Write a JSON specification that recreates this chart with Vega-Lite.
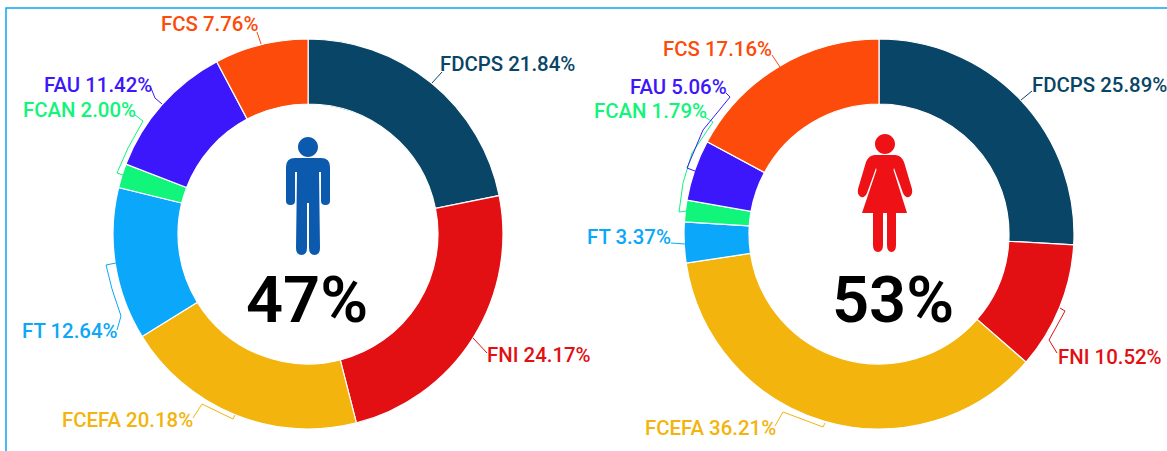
{"$schema":"https://vega.github.io/schema/vega-lite/v6.json","width":1167,"height":451,"padding":0,"autosize":{"type":"fit","contains":"padding"},"background":"white","config":{"view":{"stroke":null}},"datasets":{"shares":[{"panel":"Men","category":"FDCPS","value":21.84},{"panel":"Men","category":"FNI","value":24.17},{"panel":"Men","category":"FCEFA","value":20.18},{"panel":"Men","category":"FT","value":12.64},{"panel":"Men","category":"FCAN","value":2.0},{"panel":"Men","category":"FAU","value":11.42},{"panel":"Men","category":"FCS","value":7.76},{"panel":"Women","category":"FDCPS","value":25.89},{"panel":"Women","category":"FNI","value":10.52},{"panel":"Women","category":"FCEFA","value":36.21},{"panel":"Women","category":"FT","value":3.37},{"panel":"Women","category":"FCAN","value":1.79},{"panel":"Women","category":"FAU","value":5.06},{"panel":"Women","category":"FCS","value":17.16}],"totals":[{"panel":"Men","share":"47%"},{"panel":"Women","share":"53%"}],"callouts":[{"label":"FDCPS 21.84%","category":"FDCPS","lx":440,"ly":71},{"label":"FNI 24.17%","category":"FNI","lx":487,"ly":362},{"label":"FCEFA 20.18%","category":"FCEFA","lx":62,"ly":427},{"label":"FT 12.64%","category":"FT","lx":22,"ly":338},{"label":"FCAN 2.00%","category":"FCAN","lx":23,"ly":117},{"label":"FAU 11.42%","category":"FAU","lx":44,"ly":92},{"label":"FCS 7.76%","category":"FCS","lx":161,"ly":31},{"label":"FDCPS 25.89%","category":"FDCPS","lx":1032,"ly":92},{"label":"FNI 10.52%","category":"FNI","lx":1058,"ly":364},{"label":"FCEFA 36.21%","category":"FCEFA","lx":645,"ly":435},{"label":"FT 3.37%","category":"FT","lx":587,"ly":244},{"label":"FCAN 1.79%","category":"FCAN","lx":594,"ly":118},{"label":"FAU 5.06%","category":"FAU","lx":630,"ly":94},{"label":"FCS 17.16%","category":"FCS","lx":663,"ly":56}],"leaders":[{"id":"m1","category":"FDCPS","step":1,"px":432,"py":83},{"id":"m1","category":"FDCPS","step":2,"px":442,"py":72},{"id":"m2","category":"FNI","step":1,"px":473,"py":338},{"id":"m2","category":"FNI","step":2,"px":487,"py":353},{"id":"m3","category":"FCEFA","step":1,"px":235,"py":415},{"id":"m3","category":"FCEFA","step":2,"px":233,"py":419},{"id":"m3","category":"FCEFA","step":3,"px":202,"py":404},{"id":"m3","category":"FCEFA","step":4,"px":193,"py":418},{"id":"m4","category":"FT","step":1,"px":116,"py":263},{"id":"m4","category":"FT","step":2,"px":106,"py":265},{"id":"m4","category":"FT","step":3,"px":112,"py":289},{"id":"m4","category":"FT","step":4,"px":121,"py":316},{"id":"m4","category":"FT","step":5,"px":117,"py":330},{"id":"m5","category":"FCAN","step":1,"px":123,"py":175},{"id":"m5","category":"FCAN","step":2,"px":117,"py":173},{"id":"m5","category":"FCAN","step":3,"px":128,"py":148},{"id":"m5","category":"FCAN","step":4,"px":143,"py":121},{"id":"m5","category":"FCAN","step":5,"px":135,"py":115},{"id":"m6","category":"FAU","step":1,"px":162,"py":104},{"id":"m6","category":"FAU","step":2,"px":155,"py":98},{"id":"m6","category":"FAU","step":3,"px":151,"py":88},{"id":"m7","category":"FCS","step":1,"px":261,"py":44},{"id":"m7","category":"FCS","step":2,"px":257,"py":32},{"id":"w1","category":"FDCPS","step":1,"px":1021,"py":100},{"id":"w1","category":"FDCPS","step":2,"px":1032,"py":91},{"id":"w2","category":"FNI","step":1,"px":1060,"py":308},{"id":"w2","category":"FNI","step":2,"px":1065,"py":311},{"id":"w2","category":"FNI","step":3,"px":1049,"py":340},{"id":"w2","category":"FNI","step":4,"px":1057,"py":353},{"id":"w3","category":"FCEFA","step":1,"px":825,"py":423},{"id":"w3","category":"FCEFA","step":2,"px":823,"py":427},{"id":"w3","category":"FCEFA","step":3,"px":783,"py":412},{"id":"w3","category":"FCEFA","step":4,"px":775,"py":426},{"id":"w4","category":"FT","step":1,"px":685,"py":244},{"id":"w4","category":"FT","step":2,"px":671,"py":243},{"id":"w5","category":"FCAN","step":1,"px":687,"py":211},{"id":"w5","category":"FCAN","step":2,"px":679,"py":212},{"id":"w5","category":"FCAN","step":3,"px":683,"py":183},{"id":"w5","category":"FCAN","step":4,"px":692,"py":153},{"id":"w5","category":"FCAN","step":5,"px":713,"py":122},{"id":"w5","category":"FCAN","step":6,"px":705,"py":117},{"id":"w6","category":"FAU","step":1,"px":695,"py":171},{"id":"w6","category":"FAU","step":2,"px":687,"py":168},{"id":"w6","category":"FAU","step":3,"px":703,"py":130},{"id":"w6","category":"FAU","step":4,"px":730,"py":97},{"id":"w6","category":"FAU","step":5,"px":726,"py":93},{"id":"w7","category":"FCS","step":1,"px":780,"py":67},{"id":"w7","category":"FCS","step":2,"px":772,"py":55}],"frame":[{"step":1,"px":1167,"py":8},{"step":2,"px":6,"py":8},{"step":3,"px":6,"py":451}]},"resolve":{"scale":{"x":"independent","y":"independent"}},"layer":[{"data":{"name":"frame"},"mark":{"type":"line","color":"#0AA5F5","strokeWidth":1.5},"encoding":{"x":{"field":"px","type":"quantitative","axis":null,"scale":{"domain":[0,1167],"range":[0,1167]}},"y":{"field":"py","type":"quantitative","axis":null,"scale":{"domain":[0,451],"range":[0,451]}},"order":{"field":"step"}}},{"data":{"name":"shares"},"transform":[{"stack":"value","groupby":["panel"],"as":["v0","v1"]}],"mark":{"type":"arc","outerRadius":195,"innerRadius":130,"stroke":"white","strokeWidth":1.2},"encoding":{"x":{"field":"panel","type":"nominal","axis":null,"scale":{"type":"point","domain":["Men","Women"],"range":[308,879],"padding":0}},"y":{"field":"panel","type":"nominal","axis":null,"scale":{"type":"point","domain":["Men","Women"],"range":[234,234],"padding":0}},"theta":{"field":"v0","type":"quantitative","stack":null,"scale":{"domain":[0,100],"range":[0,6.28319]}},"theta2":{"field":"v1"},"color":{"field":"category","type":"nominal","legend":null,"scale":{"domain":["FDCPS","FNI","FCEFA","FT","FCAN","FAU","FCS"],"range":["#084566","#E20F13","#F2B40D","#0BA7FA","#10F57A","#3D17FB","#FC4B0A"]}}}},{"data":{"name":"leaders"},"mark":{"type":"line","strokeWidth":1},"encoding":{"x":{"field":"px","type":"quantitative","axis":null,"scale":{"domain":[0,1167],"range":[0,1167]}},"y":{"field":"py","type":"quantitative","axis":null,"scale":{"domain":[0,451],"range":[0,451]}},"detail":{"field":"id"},"order":{"field":"step"},"color":{"field":"category","type":"nominal","legend":null}}},{"data":{"name":"callouts"},"mark":{"type":"text","align":"left","baseline":"alphabetic","font":"Roboto","fontSize":20.4,"fontWeight":500},"encoding":{"x":{"field":"lx","type":"quantitative","axis":null,"scale":{"domain":[0,1167],"range":[0,1167]}},"y":{"field":"ly","type":"quantitative","axis":null,"scale":{"domain":[0,451],"range":[0,451]}},"text":{"field":"label"},"color":{"field":"category","type":"nominal","legend":null}}},{"data":{"name":"totals"},"mark":{"type":"text","align":"center","baseline":"alphabetic","font":"Roboto","fontSize":65,"fontWeight":600,"color":"black"},"encoding":{"x":{"field":"panel","type":"nominal","axis":null,"scale":{"type":"point","domain":["Men","Women"],"range":[307,893],"padding":0}},"y":{"field":"panel","type":"nominal","axis":null,"scale":{"type":"point","domain":["Men","Women"],"range":[322,322],"padding":0}},"text":{"field":"share"}}},{"data":{"name":"totals"},"transform":[{"filter":"datum.panel==='Men'"}],"mark":{"type":"point","filled":true,"size":4,"opacity":1,"color":"#0C5AAE","shape":"M-10,-49 a10,10 0 1,0 20,0 a10,10 0 1,0 -20,0 Z M-13,-38 L13,-38 Q22,-38 22,-29 L22,5 Q22,9 17.5,9 Q13,9 13,5 L13,-24 L11,-24 L12,52 Q12,59 6.5,59 Q1,59 1,52 L1,7 L-1,7 L-1,52 Q-1,59 -6.5,59 Q-12,59 -12,52 L-11,-24 L-13,-24 L-13,5 Q-13,9 -17.5,9 Q-22,9 -22,5 L-22,-29 Q-22,-38 -13,-38 Z"},"encoding":{"x":{"field":"panel","type":"nominal","axis":null,"scale":{"type":"point","domain":["Men","Women"],"range":[308,885],"padding":0}},"y":{"field":"panel","type":"nominal","axis":null,"scale":{"type":"point","domain":["Men","Women"],"range":[196,198],"padding":0}}}},{"data":{"name":"totals"},"transform":[{"filter":"datum.panel==='Women'"}],"mark":{"type":"point","filled":true,"size":4,"opacity":1,"color":"#EE1116","shape":"M-10,-54 a10,10 0 1,0 20,0 a10,10 0 1,0 -20,0 Z M-10,-43 L10,-43 Q16,-43 19,-36 L27,-9 Q28,-3 24,-1 Q20,0 18,-5 L9,-30 L8.5,-28 L22,15 L11,15 L11,47 Q11,54 6.5,54 Q2,54 2,47 L2,15 L-2,15 L-2,47 Q-2,54 -7,54 Q-12,54 -12,47 L-12,15 L-23,15 L-8.5,-28 L-9,-30 L-18,-5 Q-20,0 -24,-1 Q-28,-3 -27,-9 L-19,-36 Q-16,-43 -10,-43 Z"},"encoding":{"x":{"field":"panel","type":"nominal","axis":null,"scale":{"type":"point","domain":["Men","Women"],"range":[308,885],"padding":0}},"y":{"field":"panel","type":"nominal","axis":null,"scale":{"type":"point","domain":["Men","Women"],"range":[196,198],"padding":0}}}}]}
